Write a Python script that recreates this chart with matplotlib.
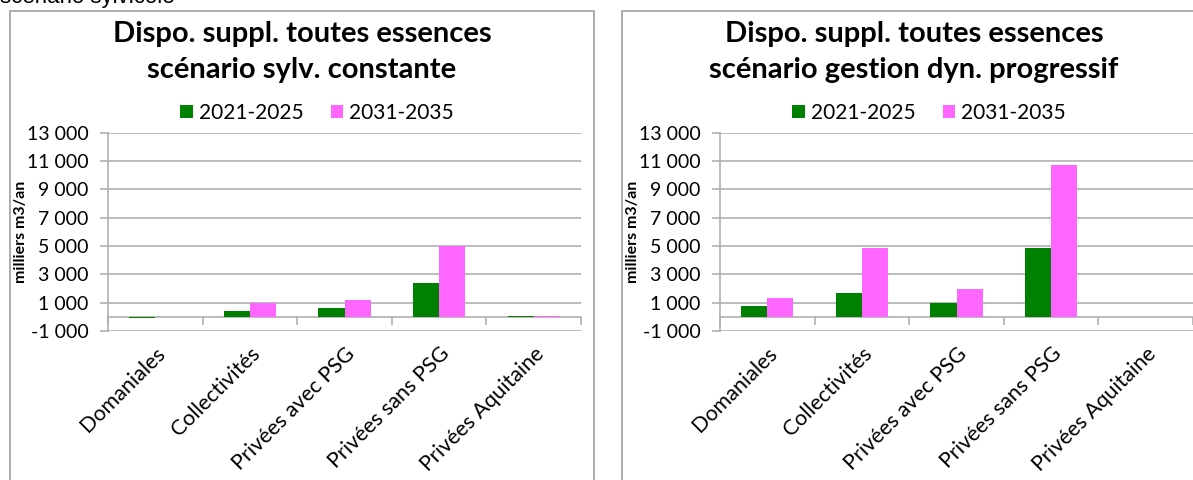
import matplotlib.pyplot as plt
from matplotlib.patches import Rectangle
from matplotlib.ticker import FuncFormatter
import numpy as np

plt.rcParams['font.family'] = ['Lato', 'DejaVu Sans']

# données (milliers m3/an)
categories = ['Domaniales', 'Collectivités', 'Privées avec PSG',
              'Privées sans PSG', 'Privées Aquitaine']
series_labels = ['2021-2025', '2031-2035']
sylv_2021 = [-50, 430, 620, 2380, 80]
sylv_2031 = [0, 1000, 1200, 5000, 80]
dyn_2021 = [780, 1650, 1000, 4850, 0]
dyn_2031 = [1300, 4850, 1950, 10750, 0]
titles = ['Dispo. suppl. toutes essences\nscénario sylv. constante',
          'Dispo. suppl. toutes essences\nscénario gestion dyn. progressif']
yticks = [-1000, 1000, 3000, 5000, 7000, 9000, 11000, 13000]

green = '#008000'
pink = '#ff66ff'
grid_col = '#b0b0b0'

fig = plt.figure(figsize=(11.93, 4.8), dpi=100)

# texte coupé en haut à gauche
fig.text(0.0, 1 - 3 / 480, 'scénario sylvicole', family='Liberation Sans',
         fontsize=16, va='baseline', ha='left')

# cadres des deux graphiques
for x0 in [10, 622]:
    fig.patches.append(Rectangle((x0 / 1193, -0.1), 584 / 1193, 1.1 - 11 / 480,
                                 transform=fig.transFigure, fill=False,
                                 edgecolor='#a0a0a0', linewidth=1.2))

panels = [(108, sylv_2021, sylv_2031, titles[0]),
          (720, dyn_2021, dyn_2031, titles[1])]

fmt = FuncFormatter(lambda v, p: '{:,.0f}'.format(v).replace(',', ' '))

for x_left, s1, s2, title in panels:
    ax = fig.add_axes([x_left / 1193, 1 - 331 / 480, 473 / 1193, 198.3 / 480])
    x = np.arange(len(categories))
    w = 0.275
    ax.bar(x - w / 2, s1, w, color=green, label=series_labels[0])
    ax.bar(x + w / 2, s2, w, color=pink, label=series_labels[1])
    ax.set_xlim(-0.5, len(categories) - 0.5)
    ax.set_ylim(-1000, 13000)
    ax.set_yticks(yticks)
    ax.yaxis.set_major_formatter(fmt)
    ax.grid(axis='y', color=grid_col, linewidth=1.2)
    ax.set_axisbelow(True)
    for s in ['top', 'right', 'bottom']:
        ax.spines[s].set_visible(False)
    ax.spines['left'].set_color(grid_col)
    ax.spines['left'].set_linewidth(1.2)
    ax.tick_params(axis='y', colors=grid_col, labelcolor='black',
                   labelsize=14, length=6, width=1.2, pad=8)
    ax.set_xticks(x)
    ax.set_xticklabels(categories, rotation=45, ha='right', va='top',
                       rotation_mode='anchor', fontsize=15.5)
    ax.tick_params(axis='x', length=0, pad=9)

    # axe des catégories à zéro
    sec = ax.secondary_xaxis(1000 / 14000)
    sec.set_xticks(np.arange(len(categories) + 1) - 0.5)
    sec.set_xticklabels([])
    sec.tick_params(axis='x', direction='out', length=6, width=1.2,
                    colors=grid_col)
    sec.spines['bottom'].set_color(grid_col)
    sec.spines['bottom'].set_linewidth(1.2)

    ax.set_ylabel('milliers m3/an', fontsize=11.5, fontweight='bold')
    ax.yaxis.set_label_coords(-80 / 473, 0.5)

    cx = (x_left - 98 + 292) / 1193
    fig.text(cx, 1 - 52 / 480, title, ha='center', va='center',
             fontsize=21, fontweight='bold', linespacing=1.45)
    fig.legend(handles=ax.containers, labels=series_labels,
               loc='center', bbox_to_anchor=(cx + 15 / 1193, 1 - 113 / 480),
               ncol=2, frameon=False, fontsize=15, handlelength=0.6,
               handleheight=0.6, handletextpad=0.3, columnspacing=1.3)

fig.savefig('out.png', dpi=100)
